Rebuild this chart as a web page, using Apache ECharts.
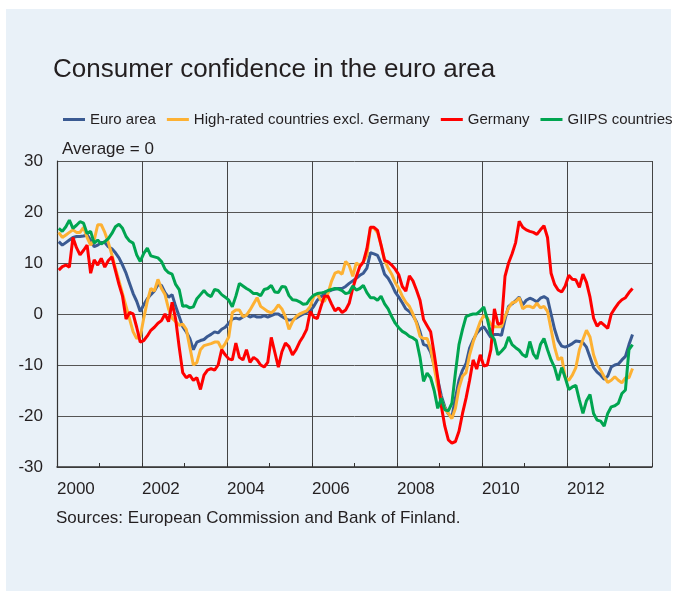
<!DOCTYPE html>
<html>
<head>
<meta charset="utf-8">
<script src="https://cdn.jsdelivr.net/npm/echarts@6/dist/echarts.min.js"></script>
<style>
  html, body { margin: 0; padding: 0; background: #ffffff; }
  #panel { position: absolute; left: 6px; top: 9px; width: 665px; height: 582px; background: #e9f1f8; }
  #chart { position: absolute; left: 0; top: 0; width: 677px; height: 597px; }
</style>
</head>
<body>
<div id="panel"></div>
<div id="chart"></div>
<script>
// Monthly data, January 2000 onwards (index 0 = 2000-01)
const startYear = 2000;
const xTickYears = [2000, 2002, 2004, 2006, 2008, 2010, 2012];
const yTickValues = [-30, -20, -10, 0, 10, 20, 30];
const seriesNames = ['Euro area', 'High-rated countries excl. Germany', 'Germany', 'GIIPS countries'];

const euroArea = [
  14.2, 13.5, 14.0, 14.5, 15.0, 15.2, 15.2, 15.3, 15.5, 14.5, 13.2, 13.5, 14.0, 14.0, 13.2, 12.8, 12.0, 11.0, 9.6, 8.0, 6.0, 4.0, 2.5, 0.5, 1.8, 3.0, 3.8, 4.5, 5.8, 5.6,
  4.2, 3.3, 3.8, 1.5, -0.5, -2.5, -3.5, -4.8, -7.0, -5.5, -5.2, -5.0, -4.4, -4.0, -3.5, -3.7, -3.0, -2.6, -1.8, -1.0, -0.8, -1.0, -0.6, -0.2, -0.6, -0.3, -0.6,
  -0.6, -0.3, -0.6, -0.3, 0.0, 0.0, -0.5, -0.9, -1.2, -1.1, -0.8, -0.4, 0.0, 0.3, 0.6, 1.5, 2.7, 3.4, 3.8, 4.4, 4.7, 4.9, 5.0, 5.0, 5.4, 6.0, 6.5,
  7.0, 7.6, 8.0, 9.0, 12.0, 11.8, 11.5, 10.0, 7.8, 7.0, 5.8, 4.3, 3.3, 2.2, 1.0, 0.5, -0.3, -1.5, -3.5, -6.0, -6.2, -7.5, -10.0, -12.8, -16.0, -18.2, -19.6, -20.2, -16.5,
  -13.0, -11.0, -9.7, -6.7, -5.1, -3.8, -3.0, -2.5, -3.5, -4.6, -4.0, -4.0, -4.2, -1.0, 1.5, 2.0, 2.6, 3.3, 1.8, 2.7, 3.1, 2.8, 2.4, 3.1, 3.4, 3.0, 0.0, -3.0, -5.2, -6.3,
  -6.5, -6.2, -5.8, -5.3, -5.4, -5.6, -6.5, -8.5, -10.5, -11.4, -12.0, -12.8, -12.2, -10.4, -10.0, -9.8, -9.0, -8.3, -6.0, -4.0
];

const highRated = [
  16.0, 15.0, 15.5, 16.0, 16.5, 16.0, 16.0, 17.0, 15.0, 13.5, 14.5, 17.5, 17.5, 16.0, 14.0, 11.6, 9.0, 6.5, 4.0, 1.5, -1.0, -3.5, -4.8, -4.5, -0.8, 2.5, 5.0, 4.5, 6.8, 5.0,
  3.8, 1.0, -0.8, -1.5, -2.2, -2.0, -3.0, -6.5, -10.0, -9.5, -7.0, -6.2, -6.0, -5.8, -5.5, -5.5, -6.8, -5.8, -4.5, 0.3, 0.8, 0.8, -0.5, -0.2, 0.8, 2.0, 3.2,
  1.5, 1.0, 0.5, 0.2, 0.8, 1.8, 1.0, -0.5, -3.0, -1.5, -0.5, 0.0, 0.3, 0.6, 1.5, 3.4, 4.0, 2.7, 2.5, 4.0, 6.4, 8.0, 8.3, 7.8, 10.3, 9.5, 7.4,
  10.0, 9.5, 10.2, 11.5, 17.0, 16.8, 16.0, 13.5, 10.5, 9.0, 7.8, 6.2, 5.0, 3.5, 2.3, 1.5, 0.0, -1.8, -4.4, -4.8, -4.8, -6.8, -10.5, -14.2, -16.8, -18.5, -19.5, -20.5, -18.5,
  -14.5, -12.2, -11.5, -8.0, -5.5, -3.5, -1.5, -0.3, -0.8, -2.0, -2.5, -2.5, -2.5, -0.5, 1.2, 2.2, 2.4, 3.2, 1.0, 1.5, 1.5, 1.2, 2.1, 1.2, 1.5, 0.5, -3.0, -6.5, -9.0, -8.5,
  -12.5, -13.0, -12.0, -10.5, -7.0, -5.0, -3.2, -4.5, -8.0, -10.0, -11.0, -12.3, -13.4, -13.0, -12.3, -13.0, -13.5, -12.5, -12.5, -10.7
];

const germany = [
  8.6, 9.3, 9.6, 9.2, 15.0, 13.0, 11.6, 12.5, 13.5, 8.0, 10.6, 9.6, 10.9, 9.2, 10.5, 11.2, 8.5, 5.8, 3.5, -1.0, 0.3, 0.0, -2.6, -5.5, -5.2, -4.3, -3.2, -2.6, -1.8, -1.3,
  0.0, -1.5, 2.3, -1.0, -6.5, -11.5, -12.5, -12.0, -13.0, -12.5, -14.8, -12.0, -11.0, -10.7, -11.0, -10.0, -7.0, -8.0, -8.8, -9.0, -5.7, -8.5, -9.0, -7.0, -9.5, -8.5, -9.0,
  -10.0, -10.4, -9.5, -4.6, -7.5, -10.4, -7.4, -5.7, -6.4, -8.0, -7.0, -5.5, -4.4, -3.0, 0.5, -0.6, -0.9, 1.4, 3.5, 3.5, 2.0, 0.6, 1.2, 0.3, 0.8, 2.1, 5.0,
  7.3, 9.3, 10.2, 12.8, 17.0, 17.0, 16.4, 13.5, 10.5, 10.2, 9.6, 8.8, 7.7, 5.4, 4.5, 7.5, 6.5, 4.7, 2.7, -1.1, -2.3, -3.5, -7.8, -12.5, -18.0, -22.0, -24.7, -25.3, -25.0,
  -23.0, -19.5, -16.5, -13.0, -9.0, -10.8, -8.0, -10.2, -10.0, -7.0, 1.0, -2.0, -1.8, 7.4, 10.0, 11.8, 14.0, 18.2, 17.0, 16.5, 16.2, 16.0, 15.6, 16.5, 17.3, 15.0, 8.0, 5.8, 4.7, 4.3,
  5.5, 7.6, 6.8, 6.7, 5.2, 7.8, 6.2, 3.3, -0.8, -2.4, -1.6, -2.2, -2.8, 0.0, 1.1, 2.1, 2.8, 3.2, 4.2, 5.0
];

const giips = [
  16.8, 16.2, 17.1, 18.4, 16.8, 17.4, 18.1, 17.8, 15.8, 16.2, 13.9, 14.5, 13.7, 14.2, 14.8, 15.8, 17.1, 17.6, 16.8, 15.2, 14.3, 13.9, 11.6, 10.3, 11.9, 12.9, 11.4, 11.2, 11.0, 10.3,
  8.8, 8.1, 7.8, 5.8, 4.8, 1.5, 1.6, 1.2, 1.4, 3.0, 3.8, 4.6, 3.8, 3.4, 4.8, 4.6, 3.8, 3.3, 2.7, 1.4, 3.5, 6.0, 5.5, 5.0, 4.6, 4.0, 4.0,
  3.6, 4.8, 5.0, 5.6, 4.3, 4.2, 5.4, 5.3, 3.6, 2.8, 2.7, 2.4, 1.9, 2.0, 3.0, 3.7, 4.0, 4.1, 4.3, 4.6, 4.8, 5.0, 4.9, 4.6, 4.0, 4.2, 5.5,
  4.7, 5.0, 5.6, 4.2, 3.2, 3.2, 2.7, 3.5, 2.0, 1.0, -0.5, -1.8, -2.7, -3.4, -3.8, -4.4, -4.7, -5.2, -8.5, -13.2, -11.6, -12.5, -15.0, -18.5, -16.5, -18.8, -19.0, -17.5, -11.5,
  -6.0, -3.0, -0.5, -0.2, 0.0, 0.0, 0.6, 1.4, -1.0, -4.0, -5.0, -8.0, -7.3, -6.5, -4.5, -6.0, -6.6, -7.1, -8.0, -8.4, -5.4, -7.8, -8.8, -6.0, -4.8,
  -7.0, -9.0, -10.5, -13.0, -10.5, -12.5, -14.8, -14.3, -14.0, -16.9, -19.5, -17.0, -15.8, -19.5, -20.8, -21.0, -22.0, -19.5, -18.2, -18.0, -17.5, -15.6, -14.9, -7.0, -6.0
];

const seriesColors = ['#3a5a92', '#fdb133', '#ff0000', '#00a550'];
const FONT = '"Liberation Sans", Arial, sans-serif';
const TEXT = '#231f20';

// month index -> fractional year (mid-month)
function toXY(arr) { return arr.map((v, i) => [startYear + (i + 0.5) / 12, v]); }
const allData = [euroArea, highRated, germany, giips];

const chart = echarts.init(document.getElementById('chart'), null, { renderer: 'canvas' });
chart.setOption({
  animation: false,
  backgroundColor: 'transparent',
  title: {
    text: 'Consumer confidence in the euro area',
    left: 48, top: 52,
    textStyle: { fontFamily: FONT, fontSize: 26, fontWeight: 'normal', color: TEXT }
  },
  legend: {
    left: 58, top: 107, width: 660,
    itemWidth: 22, itemHeight: 3, itemGap: 11,
    icon: 'rect',
    textStyle: { fontFamily: FONT, fontSize: 15, color: TEXT },
    data: seriesNames
  },
  grid: { left: 57, right: 25, top: 161, bottom: 130, containLabel: false },
  xAxis: {
    type: 'value', min: 2000, max: 2014, interval: 2,
    axisLine: { show: true, onZero: false, lineStyle: { color: '#333', width: 1.5 } },
    axisTick: { show: true, inside: true, length: 4, lineStyle: { color: '#333' } },
    minorTick: { show: true, splitNumber: 2, length: 4, lineStyle: { color: '#333', width: 1 } },
    axisLabel: {
      fontFamily: FONT, fontSize: 17, color: TEXT, align: 'left', margin: 14,
      formatter: v => (xTickYears.indexOf(v) >= 0 ? String(v) : '')
    },
    splitLine: { show: true, lineStyle: { color: '#444', width: 1 } }
  },
  yAxis: {
    type: 'value', min: yTickValues[0], max: yTickValues[yTickValues.length - 1], interval: 10,
    axisLine: { show: true, lineStyle: { color: '#333', width: 1.2 } },
    axisTick: { show: false },
    axisLabel: { fontFamily: FONT, fontSize: 17, color: TEXT, margin: 14 },
    splitLine: { show: true, lineStyle: { color: '#555', width: 1 } },
    name: 'Average = 0', nameLocation: 'end', nameGap: 3,
    nameTextStyle: { fontFamily: FONT, fontSize: 17, color: TEXT, align: 'left', padding: [0, 0, 0, 5] }
  },
  graphic: [{
    type: 'text', left: 56, top: 510,
    style: { text: 'Sources: European Commission and Bank of Finland.', font: '17px ' + FONT, fill: TEXT }
  }],
  series: seriesNames.map((name, k) => ({
    name: name,
    type: 'line',
    data: toXY(allData[k]),
    showSymbol: false,
    symbol: 'none',
    color: seriesColors[k],
    lineStyle: { width: 3, color: seriesColors[k] },
    clip: true
  }))
});
</script>
</body>
</html>
